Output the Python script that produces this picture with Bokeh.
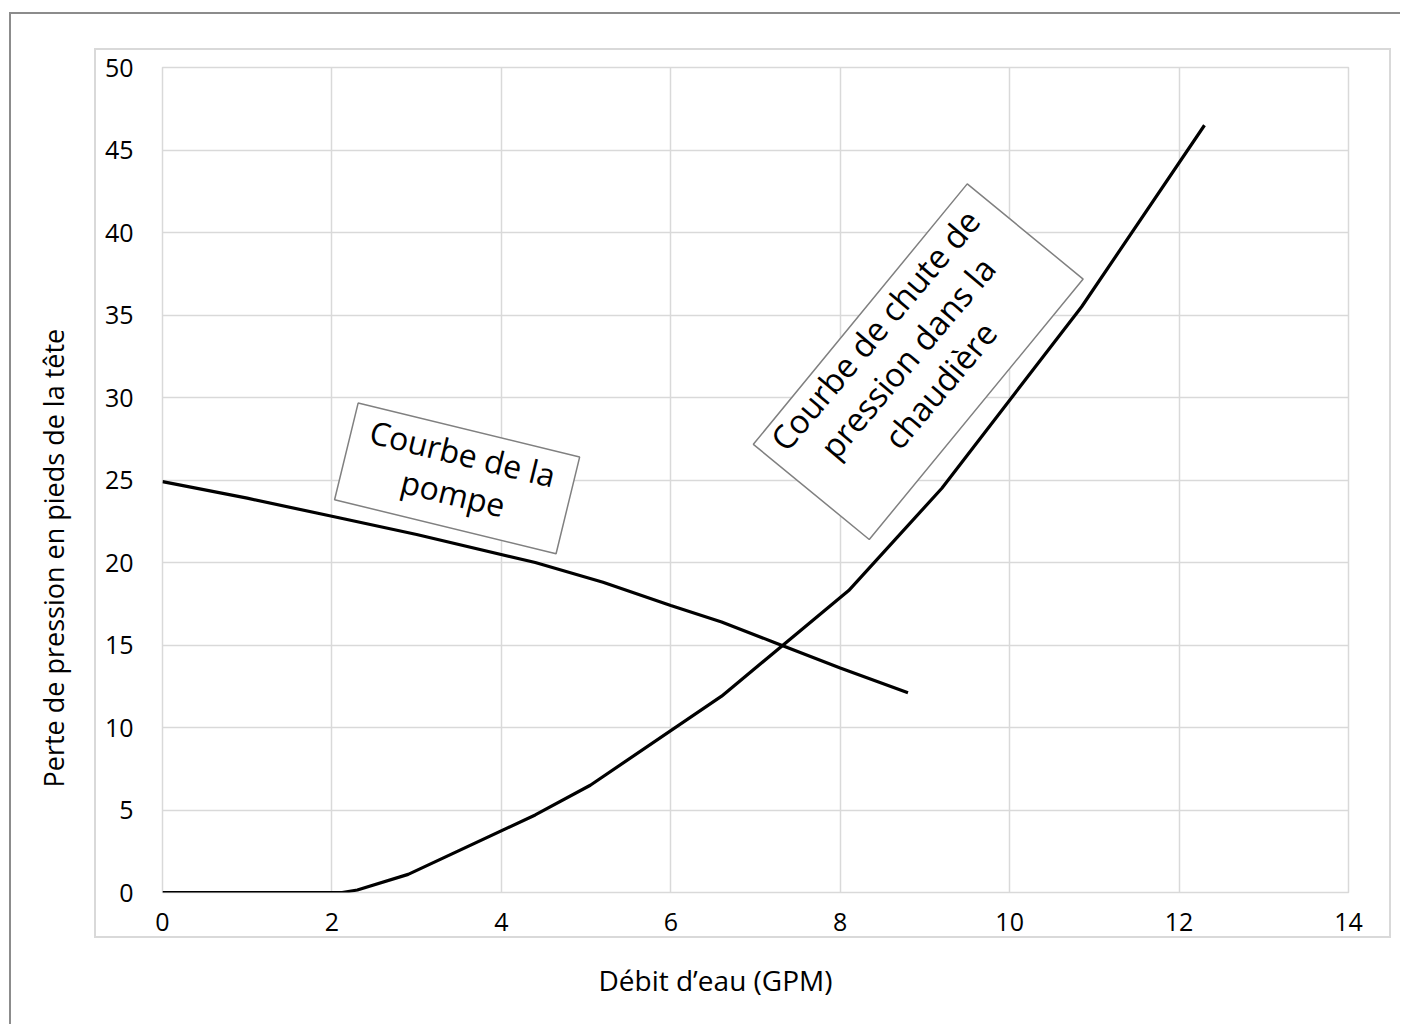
from bokeh.plotting import figure
from bokeh.models import FixedTicker, Range1d, Title, InlineStyleSheet
from bokeh.core.properties import value
from bokeh.embed import file_html
from bokeh.resources import INLINE
import math

# ---- data ----
pump_x = [0.0, 1.0, 2.0, 3.0, 4.4, 5.2, 6.0, 6.6, 7.2, 8.0, 8.8]
pump_y = [24.9, 23.9, 22.8, 21.7, 20.0, 18.8, 17.4, 16.4, 15.2, 13.6, 12.1]

boiler_x = [0.0, 2.12, 2.3, 2.9, 4.4, 5.05, 6.6, 8.1, 9.2, 10.85, 12.3]
boiler_y = [0.0, 0.0, 0.15, 1.1, 4.7, 6.5, 11.9, 18.3, 24.5, 35.5, 46.5]

x_ticks = [0, 2, 4, 6, 8, 10, 12, 14]
y_ticks = [0, 5, 10, 15, 20, 25, 30, 35, 40, 45, 50]

x_title = "Débit d’eau (GPM)"
y_title = "Perte de pression en pieds de la tête"
pump_label = "Courbe de la\npompe"
boiler_label = "Courbe de chute de\npression dans la\nchaudière"

FONT = "Open Sans"

# ---- figure ----
W, H = 1400, 1024
L, T = 162, 67
FW, FH = 1186, 825
R, B = W - L - FW, H - T - FH

css = InlineStyleSheet(css="""
:host { position: relative; }
:host::before { content: ''; position: absolute; left: 94px; top: 48px; width: 1297px; height: 890px;
  border: 2px solid #d9d9d9; box-sizing: border-box; z-index: 5; pointer-events: none; }
:host::after { content: ''; position: absolute; left: 9px; top: 12px; right: 0; bottom: 0;
  border-left: 2px solid #8c8c8c; border-top: 2px solid #8c8c8c; z-index: 5; pointer-events: none; }
""")

p = figure(width=W, height=H, output_backend="svg", toolbar_location=None,
           x_range=Range1d(0, 14), y_range=Range1d(0, 50),
           min_border_left=L, min_border_right=R, min_border_top=T, min_border_bottom=B,
           stylesheets=[css])
p.background_fill_color = "white"
p.border_fill_color = "white"
p.outline_line_color = "#d9d9d9"
p.outline_line_width = 1.5

for ax in (p.xaxis, p.yaxis):
    ax.axis_line_color = None
    ax.major_tick_line_color = None
    ax.minor_tick_line_color = None
    ax.major_label_text_font = FONT
    ax.major_label_text_font_size = "25px"
    ax.major_label_text_color = "black"
p.xaxis.ticker = FixedTicker(ticks=x_ticks)
p.yaxis.ticker = FixedTicker(ticks=y_ticks)
p.xaxis.major_label_standoff = 14
p.yaxis.major_label_standoff = 23

for g in (p.xgrid, p.ygrid):
    g.grid_line_color = "#d9d9d9"
    g.grid_line_width = 1.5
p.xgrid.ticker = FixedTicker(ticks=x_ticks)
p.ygrid.ticker = FixedTicker(ticks=y_ticks)

sx = FW / 14.0
sy = FH / 50.0

def dx(px):  # page px -> data x
    return (px - L) / sx

def dy(py):
    return (T + FH - py) / sy

# curves
p.line(pump_x, pump_y, line_color="black", line_width=3.2)
p.line(boiler_x, boiler_y, line_color="black", line_width=3.2)

# annotation boxes
p.rect(x=[dx(456.6)], y=[dy(477.9)], width=228, height=99.5, width_units="screen",
       height_units="screen", angle=math.radians(-13.7), fill_color="white",
       line_color="#808080", line_width=1.5)
p.text(x=[dx(457.5)], y=[dy(472.5)], text=[pump_label], angle=math.radians(-13.7),
       text_font=value(FONT), text_font_size="32px", text_align="center",
       text_baseline="middle", text_color="black", text_line_height=0.95)

p.rect(x=[dx(917.75)], y=[dy(361.2)], width=337, height=150, width_units="screen",
       height_units="screen", angle=math.radians(50.6), fill_color="white",
       line_color="#808080", line_width=1.5)
p.text(x=[dx(907)], y=[dy(357)], text=[boiler_label], angle=math.radians(49.8),
       text_font=value(FONT), text_font_size="33px", text_align="center",
       text_baseline="middle", text_color="black", text_line_height=0.95)

# axis titles
p.add_layout(Title(text=x_title, align="left", offset=436, standoff=50,
                   text_font=FONT, text_font_size="28px", text_font_style="normal",
                   text_color="black"), "below")
p.add_layout(Title(text=y_title, align="left", offset=105, standoff=60,
                   text_font=FONT, text_font_size="27px", text_font_style="normal",
                   text_color="black"), "left")

open("out.html", "w").write(file_html(p, INLINE))
